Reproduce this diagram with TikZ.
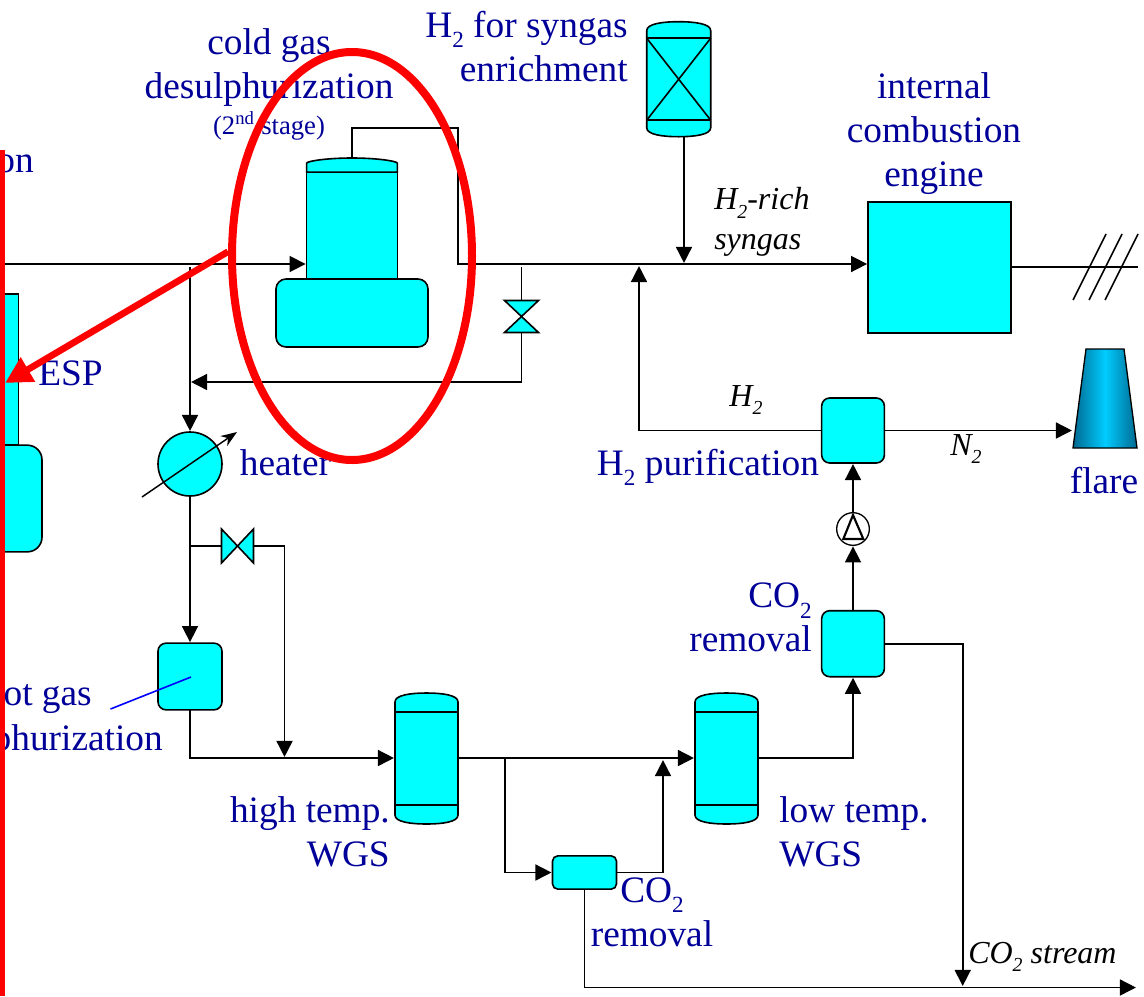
\documentclass[tikz,border=0pt]{standalone}
\usepackage{fontspec}
\setmainfont{Liberation Serif}
\usetikzlibrary{shapes.geometric,arrows.meta,positioning,calc}
\definecolor{unitCyan}{RGB}{0,255,255}
\definecolor{labelBlue}{RGB}{0,0,153}
\definecolor{flareMid}{RGB}{0,204,255}
\definecolor{flareDark}{RGB}{0,105,145}
\newcommand{\two}{\raisebox{-0.27em}{\scalebox{0.62}{2}}}
\tikzset{
  pics/vessel/.style n args={3}{code={
    \draw[line width=1.2pt, fill=unitCyan]
      ({-#1/2},{-#2/2+9}) .. controls ({-#1/2},{-#2/2+2}) and ({-#1/4},{-#2/2}) .. (0,{-#2/2})
      .. controls ({#1/4},{-#2/2}) and ({#1/2},{-#2/2+2}) .. ({#1/2},{-#2/2+9})
      -- ({#1/2},{#2/2-9}) .. controls ({#1/2},{#2/2-2}) and ({#1/4},{#2/2}) .. (0,{#2/2})
      .. controls ({-#1/4},{#2/2}) and ({-#1/2},{#2/2-2}) .. ({-#1/2},{#2/2-9}) -- cycle;
    \draw[line width=1.2pt] ({-#1/2},{-#2/2+#3}) -- ({#1/2},{-#2/2+#3});
    \draw[line width=1.2pt] ({-#1/2},{#2/2-#3}) -- ({#1/2},{#2/2-#3});
    \node[inner sep=0pt, outer sep=0pt, minimum width=#1*0.75pt, minimum height=#2*0.75pt] (-body) at (0,0) {};
  }},
  pics/valvemark/.style={code={
    \draw[line width=1.2pt, fill=unitCyan] (-16,-17) -- (16,17) -- (16,-17) -- (-16,17) -- cycle;
    \node[inner sep=0pt, outer sep=0pt, minimum width=24pt, minimum height=25pt] (-body) at (0,0) {};
  }}
}
\begin{document}
\begin{tikzpicture}[x=0.75pt, y=-0.75pt,
      unitbox/.style={draw=black, line width=1.2pt, fill=unitCyan, rounded corners=6pt,
                      inner sep=0pt, outer sep=0pt},
      plainbox/.style={unitbox, rounded corners=0pt},
      pipe/.style={draw=black, line width=1.2pt},
      flow/.style={pipe, -{Triangle[length=12pt, width=12pt]}, shorten >=0.8pt},
      label/.style={text=labelBlue, font=\fontsize{28}{33}\selectfont, inner sep=0pt},
      note/.style={text=black, font=\fontsize{24}{30}\selectfont\itshape, inner sep=0pt}]
  \useasboundingbox (0,0) rectangle (1144,996);

  % units
  \node[plainbox, minimum width=68pt, minimum height=80pt] (coldtop) at (352,225.5) {};
  \node[unitbox, rounded corners=7.5pt, minimum width=114pt, minimum height=51pt] (coldbase) at (352,313) {};
  \draw[pipe, fill=unitCyan] (coldtop.north west) -- ++(0,-9) .. controls ++(0,-2) and ++(-25,0) .. (352,158)
    .. controls ++(25,0) and ++(0,-2) .. ($(coldtop.north east)+(0,-9)$) -- (coldtop.north east) -- cycle;
  \coordinate (coldcap) at (352,158);
  \node[plainbox, minimum width=107pt, minimum height=98pt] (engine) at (939.5,267.5) {};
  \node[unitbox, rounded corners=11pt, minimum width=63pt, minimum height=80pt] (espbase) at (0,498.5) {};
  \node[plainbox, minimum width=28pt, minimum height=113pt] (esp) at (0,369.5) {};
  \node[unitbox, minimum width=48pt, minimum height=50pt] (hotgas) at (190,676.5) {};
  \node[unitbox, minimum width=47pt, minimum height=48.75pt] (purif) at (853,430.5) {};
  \node[unitbox, minimum width=47pt, minimum height=49.5pt] (coremove) at (853,643.7) {};
  \node[unitbox, rounded corners=4pt, minimum width=48pt, minimum height=25pt] (cosmall) at (584.5,872.5) {};
  \node[circle, draw=black, line width=1.2pt, fill=unitCyan, minimum size=48pt, inner sep=0pt, outer sep=0pt] (heater) at (190,464) {};
  \node[circle, draw=black, line width=1pt, fill=white, minimum size=24.5pt, inner sep=0pt, outer sep=0pt] (pump) at (853,529) {};
  \draw[line width=1.6pt] (853,515) -- (843.3,539) -- (863.3,539) -- cycle;
  \node[inner sep=0pt, outer sep=0pt, minimum width=48pt, minimum height=74.25pt] (flare) at (1105,398.5) {};
  \draw[line width=1pt, left color=flareDark, right color=flareDark, middle color=flareMid]
    (flare.south west) -- (flare.south east) -- (1124,349) -- (1086,349) -- cycle;
  \pic (ht) at (426.5,758.5) {vessel={63}{131}{19}};
  \pic (lt) at (726.5,758.5) {vessel={63}{131}{19}};
  \pic (h2) at (678.7,79.2) {vessel={64}{115}{16.5}};
  \draw[pipe] (h2-body.north west)++(0,16.5) -- ($(h2-body.south east)+(0,-16.5)$);
  \draw[pipe] (h2-body.north east)++(0,16.5) -- ($(h2-body.south west)+(0,-16.5)$);
  \pic[rotate=90] (vtop) at (521.5,316.5) {valvemark};
  \pic (vlow) at (237.5,546) {valvemark};

  % pipes
  \coordinate (feed) at (0,264);
  \coordinate (toptee) at (458,128);
  \coordinate (gastee) at (190,267);
  \coordinate (retee) at (521.5,267);
  \coordinate (byptee) at (190,546);
  \coordinate (bypass) at (284.5,546);
  \coordinate (htin) at (190,758);
  \coordinate (splittee) at (505,758);
  \coordinate (mixtee) at (663,759);
  \coordinate (h2drop) at (684,264);
  \coordinate (purtee) at (639,265);
  \coordinate (coend) at (1137,987.5);
  \coordinate (shaft) at (1138,267);
  \coordinate (costee) at (962.7,987);
  \coordinate (returnend) at (190,382);
  \draw[flow] (feed) -- (feed -| coldtop.west);
  \draw[flow] (coldcap) |- (toptee) |- (feed -| engine.west);
  \draw[flow] (h2drop |- h2-body.south) -- (h2drop);
  \draw[pipe] (engine.east |- shaft) -- (shaft);
  \foreach \off in {0,16,32}
    \draw[pipe] ($(shaft)+(\off-65,33)$) -- ($(shaft)+(\off-32,-33)$);
  \draw[pipe] (retee) -- (vtop-body.north);
  \draw[flow] (vtop-body.south) |- (returnend);
  \draw[flow] (gastee) -- (heater.north);
  \draw[flow] (heater.south) -- (hotgas.north);
  \draw[pipe] (byptee) -- (vlow-body.west);
  \draw[pipe] (vlow-body.east) -- (bypass);
  \draw[flow] (bypass) -- (bypass |- htin);
  \draw[flow] (hotgas.south) |- (htin -| ht-body.west);
  \draw[flow] (htin -| ht-body.east) -- (htin -| lt-body.west);
  \draw[flow] (splittee) |- (cosmall.west);
  \draw[flow] (cosmall.east) -| (mixtee);
  \draw[flow] (htin -| lt-body.east) -| (coremove.south);
  \draw[flow] (coremove.north) -- (pump.south);
  \draw[flow] (pump.north) -- (purif.south);
  \draw[flow] (purif.west) -| (purtee);
  \draw[flow] (purif.east) -- (purif.east -| flare.west);
  \draw[flow] (coremove.east) -| (costee);
  \draw[flow] (cosmall.south) |- (coend);
  \draw[line width=1.2pt, draw=blue] (110.5,709) -- (191,677);
  \draw[-{Stealth[length=12pt, width=9pt]}, line width=1.1pt] (142,497) -- (237,432);

  % labels
  \node[label, align=center, anchor=north] (coldlabel) at (269,28) {cold gas\\desulphurization\\[-6pt]{\fontsize{20}{22}\selectfont (2\textsuperscript{nd} stage)}};
  \node[label, align=right, anchor=north east] (h2label) at (628,11) {H\two{} for syngas\\enrichment};
  \node[label, align=center, anchor=north] (englabel) at (934,72) {internal\\combustion\\engine};
  \node[note, align=left, anchor=north west] (richlabel) at (714,187) {H\two-rich\\syngas};
  \node[note, anchor=base] (h2note) at (746,406) {H\two};
  \node[note, anchor=base] (n2note) at (966,455) {N\two};
  \node[label, anchor=base east] (onlabel) at (34,172) {on};
  \node[label, anchor=base] (esplabel) at (70.5,385) {ESP};
  \node[label, anchor=base] (heatlabel) at (285.5,475) {heater};
  \node[label, anchor=base] (purlabel) at (708,475) {H\two{} purification};
  \node[label, anchor=base] (flarelabel) at (1104,493) {flare};
  \node[label, anchor=base east] (hotlabel) at (92,705) {ot gas};
  \node[label, anchor=base east] (desullabel) at (163,750) {phurization};
  \node[label, align=right, anchor=north east] (htlabel) at (390,796) {high temp.\\WGS};
  \node[label, align=left, anchor=north west] (ltlabel) at (779,796) {low temp.\\WGS};
  \node[label, align=right, anchor=north east] (corlabel) at (812,583) {CO\two\\removal};
  \node[label, align=center, anchor=north] (cossmall) at (652,877) {CO\two\\removal};
  \node[note, anchor=base west] (streamnote) at (968,963) {CO\two{} stream};

  % red marks
  \node[ellipse, draw=red, line width=6pt, minimum width=180pt, minimum height=306pt, inner sep=0pt] (ring) at (352,256) {};
  \coordinate (esptip) at (5,383);
  \draw[draw=red, fill=red, line width=5pt, -{Triangle[length=20pt, width=20pt]}] (ring.178) -- (esptip);
  \fill[red] (0,150) rectangle (5,996);
\end{tikzpicture}
\end{document}
